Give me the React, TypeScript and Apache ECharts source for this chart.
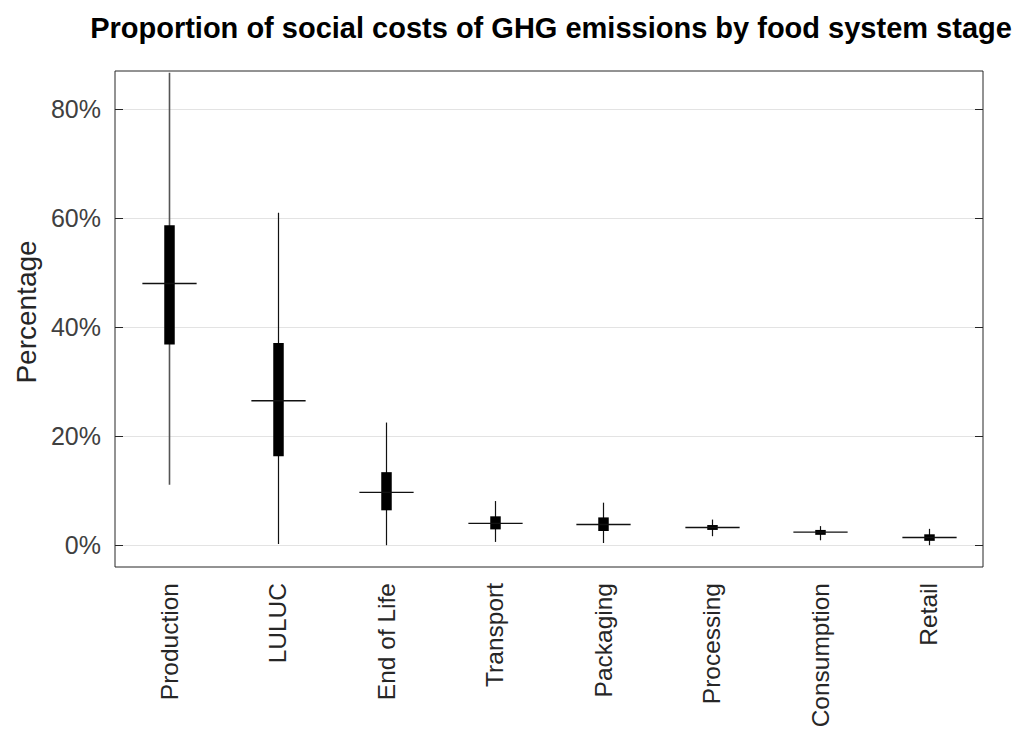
import React, { useEffect, useRef } from "react";
import * as echarts from "echarts";

const categories = ["Production", "LULUC", "End of Life", "Transport", "Packaging", "Processing", "Consumption", "Retail"];
const whiskerLow = [11.1, 0.2, 0.0, 0.6, 0.4, 1.65, 0.9, 0.0];
const q1 = [36.8, 16.3, 6.4, 2.9, 2.6, 2.8, 1.9, 0.8];
const median = [48.0, 26.5, 9.7, 4.0, 3.8, 3.25, 2.4, 1.4];
const q3 = [58.7, 37.1, 13.4, 5.3, 5.1, 3.7, 2.8, 2.0];
const whiskerHigh = [86.7, 61.0, 22.5, 8.1, 7.8, 4.7, 3.5, 3.0];
const yTicks = [0, 20, 40, 60, 80];

const FONT = "'Liberation Sans', Arial, Helvetica, sans-serif";

export default function App() {
  const ref = useRef<HTMLDivElement>(null);
  useEffect(() => {
    if (!ref.current) return;
    const chart = echarts.init(ref.current, null, { renderer: "svg" });
    const data = categories.map((_, i) => [i, whiskerLow[i], q1[i], median[i], q3[i], whiskerHigh[i]]);
    chart.setOption({
      animation: false,
      backgroundColor: "#ffffff",
      textStyle: { fontFamily: FONT },
      title: {
        text: "Proportion of social costs of GHG emissions by food system stage",
        left: 546,
        top: 8,
        textAlign: "center",
        textStyle: { fontFamily: FONT, fontSize: 29, fontWeight: "bold", color: "#000000" },
      },
      grid: {
        left: 115,
        right: 37,
        top: 71,
        bottom: 169,
        show: true,
        borderColor: "#262626",
        borderWidth: 1,
        backgroundColor: "#ffffff",
      },
      xAxis: {
        type: "category",
        data: categories,
        boundaryGap: true,
        axisLine: { show: false },
        axisTick: { show: false },
        splitLine: { show: false },
        axisLabel: {
          rotate: 90,
          margin: 16,
          fontSize: 24.5,
          color: "#262626",
          fontFamily: FONT,
          interval: 0,
        },
      },
      yAxis: [
        {
          type: "value",
          min: -4,
          max: 87,
          name: "Percentage",
          nameLocation: "middle",
          nameGap: 73,
          nameTextStyle: { fontSize: 28, color: "#262626", fontFamily: FONT, padding: [0, 0, 0, 14] },
          axisLine: { show: false },
          axisTick: { show: true, inside: true, length: 8, customValues: yTicks, lineStyle: { color: "#262626" } },
          axisLabel: {
            customValues: yTicks,
            formatter: "{value}%",
            fontSize: 25,
            color: "#404040",
            margin: 14,
            fontFamily: FONT,
          },
          splitLine: { show: true, lineStyle: { color: "#e3e3e3", width: 1 } },
        },
        {
          type: "value",
          min: -4,
          max: 87,
          position: "right",
          axisLine: { show: false },
          axisTick: { show: true, inside: true, length: 8, customValues: yTicks, lineStyle: { color: "#262626" } },
          axisLabel: { show: false, customValues: yTicks },
          splitLine: { show: false },
        },
      ],
      series: [
        {
          type: "custom",
          data,
          encode: { x: 0, y: [1, 2, 3, 4, 5] },
          renderItem: (params: any, api: any) => {
            const idx = api.value(0);
            const lo = api.coord([idx, api.value(1)]);
            const b1 = api.coord([idx, api.value(2)]);
            const md = api.coord([idx, api.value(3)]);
            const b3 = api.coord([idx, api.value(4)]);
            const hi = api.coord([idx, api.value(5)]);
            const band = api.size([1, 0])[0];
            const boxW = 10.5;
            const medW = band * 0.5;
            const x = Math.round(lo[0]) + 0.5;
            return {
              type: "group",
              children: [
                {
                  type: "line",
                  shape: { x1: x, y1: hi[1], x2: x, y2: lo[1] },
                  style: { stroke: idx === 0 ? "#555555" : "#111111", lineWidth: idx === 0 ? 1.6 : 1.2 },
                },
                {
                  type: "rect",
                  shape: { x: x - boxW / 2, y: b3[1], width: boxW, height: Math.max(b1[1] - b3[1], 1) },
                  style: { fill: "#000000" },
                },
                {
                  type: "line",
                  shape: { x1: x - medW / 2, y1: md[1], x2: x + medW / 2, y2: md[1] },
                  style: { stroke: "#111111", lineWidth: 1.4 },
                },
              ],
            };
          },
        },
      ],
    });
    return () => chart.dispose();
  }, []);
  return <div ref={ref} style={{ position: "fixed", left: 0, top: 0, width: 1020, height: 736 }} />;
}
